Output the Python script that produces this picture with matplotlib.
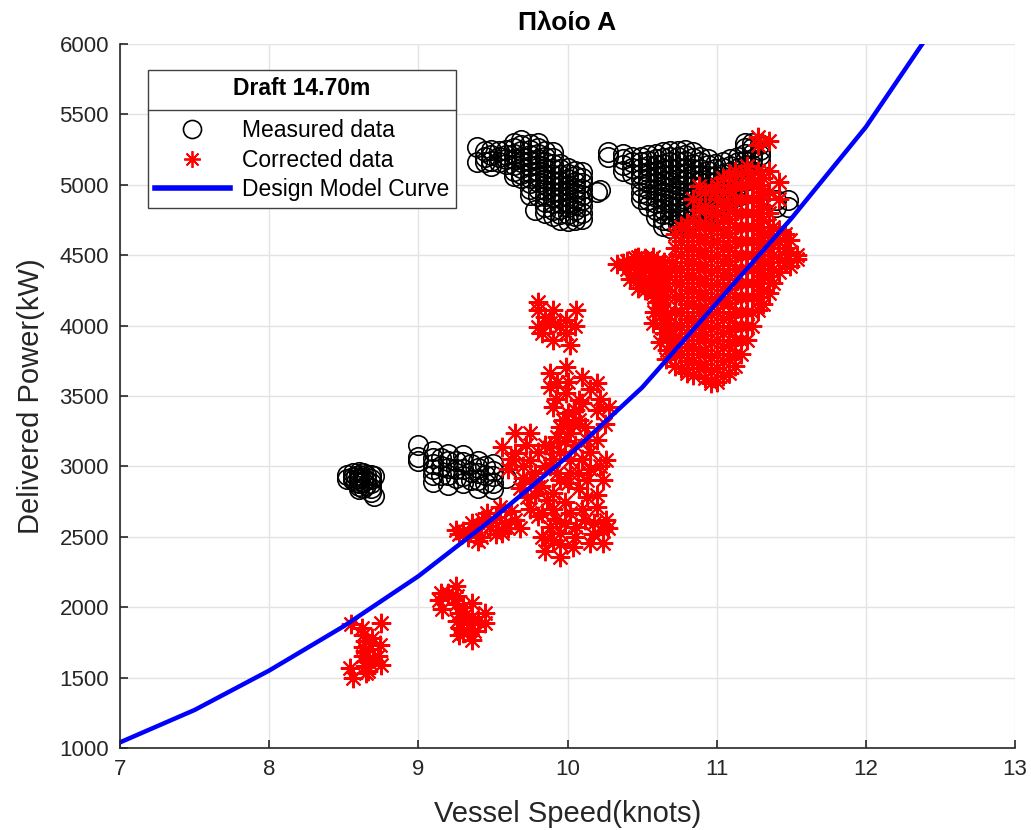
import matplotlib.pyplot as plt
from matplotlib.lines import Line2D

plt.rcParams['font.family'] = ['Liberation Sans', 'DejaVu Sans']

# design model curve (speed in knots, power in kW)
design_speed = [7.0, 7.5, 8.0, 8.5, 9.0, 9.5, 10.0, 10.5, 11.0, 11.5, 12.0, 12.5]
design_power = [1040, 1270, 1550, 1865, 2220, 2630, 3070, 3560, 4160, 4760, 5410, 6190]

# measured data, grouped roughly by speed columns
meas_speed = (
	[8.52, 8.52, 8.56, 8.56, 8.56, 8.60, 8.60, 8.60, 8.60, 8.60, 8.60, 8.60,
	 8.63, 8.63, 8.63, 8.63, 8.68, 8.68, 8.68, 8.68, 8.68, 8.70, 8.70,
	 8.58, 8.58, 8.65, 8.65, 8.65]
	+ [9.00, 9.00, 9.00, 9.10, 9.10, 9.10, 9.10, 9.10, 9.10, 9.20, 9.20, 9.20, 9.20, 9.20,
	   9.30, 9.30, 9.30, 9.30, 9.30, 9.40, 9.40, 9.40, 9.40, 9.40, 9.50, 9.50, 9.50, 9.50,
	   9.50, 9.59,
	   9.15, 9.15, 9.15, 9.25, 9.25, 9.25, 9.35, 9.35, 9.35, 9.45, 9.45, 9.45]
	+ [9.39, 9.39, 9.49, 9.49, 9.49, 9.49, 9.59, 9.59, 9.59, 9.59,
	   9.69, 9.69, 9.69, 9.69, 9.69, 9.69, 9.69, 9.69,
	   9.80, 9.80, 9.80, 9.80, 9.80, 9.80, 9.80, 9.80, 9.80, 9.80, 9.78,
	   9.90, 9.90, 9.90, 9.90, 9.90, 9.90, 9.90, 9.90, 9.90, 9.90, 9.90, 9.90,
	   10.00, 10.00, 10.00, 10.00, 10.00, 10.00, 10.00, 10.00, 10.00, 10.00,
	   10.10, 10.10, 10.10, 10.10, 10.10, 10.10, 10.10, 10.10, 10.10, 10.20]
	+ [9.45, 9.45, 9.45, 9.54, 9.54, 9.54,
	   9.64, 9.64, 9.64, 9.64, 9.64, 9.64, 9.64,
	   9.75, 9.75, 9.75, 9.75, 9.75, 9.75, 9.75, 9.75, 9.75, 9.75,
	   9.85, 9.85, 9.85, 9.85, 9.85, 9.85, 9.85, 9.85, 9.85, 9.85, 9.85, 9.85,
	   9.95, 9.95, 9.95, 9.95, 9.95, 9.95, 9.95, 9.95, 9.95, 9.95, 9.95,
	   10.05, 10.05, 10.05, 10.05, 10.05, 10.05, 10.05, 10.05, 10.05, 10.05]
	+ [10.22, 10.27, 10.27, 10.37, 10.37, 10.37, 10.37,
	   10.49, 10.49, 10.49, 10.49, 10.49, 10.49, 10.49, 10.49,
	   10.59, 10.59, 10.59, 10.59, 10.59, 10.59, 10.59, 10.59, 10.59, 10.59, 10.59,
	   10.69, 10.69, 10.69, 10.69, 10.69, 10.69, 10.69, 10.69, 10.69, 10.69, 10.69, 10.69, 10.69,
	   10.79, 10.79, 10.79, 10.79, 10.79, 10.79, 10.79, 10.79, 10.79, 10.79, 10.79, 10.79, 10.79,
	   10.89, 10.89, 10.89, 10.89, 10.89, 10.89, 10.89, 10.89, 10.89, 10.89,
	   10.99, 10.99, 10.99, 10.99, 10.99, 10.99, 10.99, 10.99, 10.99, 10.99, 10.99,
	   11.09, 11.09, 11.09, 11.09, 11.09, 11.09, 11.09,
	   11.19, 11.19, 11.19, 11.19, 11.19, 11.19, 11.19,
	   11.29, 11.29, 11.29, 11.29, 11.40, 11.40, 11.48, 11.48]
	+ [10.43, 10.43, 10.43, 10.43,
	   10.54, 10.54, 10.54, 10.54, 10.54, 10.54, 10.54, 10.54, 10.54, 10.54,
	   10.64, 10.64, 10.64, 10.64, 10.64, 10.64, 10.64, 10.64, 10.64, 10.64, 10.64, 10.64, 10.64, 10.64,
	   10.74, 10.74, 10.74, 10.74, 10.74, 10.74, 10.74, 10.74, 10.74, 10.74, 10.74, 10.74, 10.74, 10.74,
	   10.84, 10.84, 10.84, 10.84, 10.84, 10.84, 10.84, 10.84, 10.84, 10.84, 10.84, 10.84, 10.84,
	   10.94, 10.94, 10.94, 10.94, 10.94, 10.94, 10.94, 10.94, 10.94, 10.94, 10.94, 10.94, 10.94,
	   11.04, 11.04, 11.04, 11.04, 11.04, 11.04, 11.04, 11.04, 11.04,
	   11.14, 11.14, 11.14, 11.14, 11.14, 11.14, 11.14, 11.14, 11.14,
	   11.24, 11.24, 11.24, 11.24, 11.24, 11.24]
)
meas_power = (
	[2940, 2910, 2950, 2925, 2900, 2960, 2940, 2920, 2900, 2880, 2860, 2840,
	 2950, 2920, 2890, 2850, 2940, 2910, 2880, 2850, 2820, 2930, 2790,
	 2930, 2890, 2940, 2900, 2870]
	+ [3150, 3070, 3040, 3110, 3060, 3020, 2980, 2940, 2890, 3090, 3040, 2990, 2940, 2870,
	   3080, 3030, 2980, 2930, 2880, 3040, 2990, 2950, 2900, 2850, 3020, 2970, 2930, 2880,
	   2840, 2920,
	   3060, 3000, 2940, 3040, 2980, 2920, 3020, 2960, 2900, 3000, 2940, 2880]
	+ [5270, 5165, 5250, 5210, 5170, 5135, 5250, 5215, 5180, 5145,
	   5320, 5280, 5240, 5200, 5160, 5120, 5080, 5050,
	   5300, 5260, 5220, 5180, 5140, 5100, 5060, 5020, 4970, 4920, 4820,
	   5230, 5190, 5150, 5110, 5070, 5030, 4990, 4950, 4910, 4870, 4820, 4780,
	   5120, 5080, 5040, 5000, 4960, 4920, 4880, 4840, 4790, 4740,
	   5090, 5050, 5010, 4970, 4930, 4890, 4850, 4800, 4760, 4950]
	+ [5240, 5200, 5160, 5240, 5200, 5160,
	   5300, 5260, 5220, 5180, 5140, 5100, 5060,
	   5290, 5250, 5210, 5170, 5130, 5090, 5050, 5010, 4970, 4930,
	   5240, 5200, 5160, 5120, 5080, 5040, 5000, 4960, 4920, 4880, 4840, 4800,
	   5150, 5110, 5070, 5030, 4990, 4950, 4910, 4870, 4830, 4790, 4750,
	   5100, 5060, 5020, 4980, 4940, 4900, 4860, 4820, 4780, 4750]
	+ [4960, 5230, 5195, 5220, 5180, 5140, 5100,
	   5200, 5160, 5120, 5080, 5040, 4990, 4940, 4900,
	   5220, 5180, 5140, 5100, 5060, 5010, 4960, 4910, 4870, 4820, 4770,
	   5240, 5200, 5160, 5110, 5070, 5020, 4980, 4930, 4890, 4840, 4790, 4740, 4690,
	   5250, 5210, 5170, 5120, 5080, 5030, 4990, 4940, 4900, 4850, 4800, 4750, 4700,
	   5200, 5160, 5110, 5070, 5020, 4980, 4930, 4890, 4840, 4790,
	   5150, 5110, 5060, 5020, 4970, 4930, 4880, 4840, 4790, 4740, 4680,
	   5180, 5130, 5090, 5040, 4990, 4940, 4890,
	   5300, 5260, 5220, 5170, 5130, 5080, 5030,
	   5290, 5250, 5210, 5170, 4890, 4840, 4890, 4840]
	+ [5200, 5160, 5120, 5080,
	   5210, 5170, 5130, 5090, 5050, 5010, 4970, 4930, 4890, 4850,
	   5230, 5190, 5150, 5110, 5070, 5030, 4990, 4950, 4910, 4870, 4830, 4790, 4750, 4710,
	   5240, 5200, 5160, 5120, 5080, 5040, 5000, 4960, 4920, 4880, 4840, 4800, 4760, 4720,
	   5230, 5190, 5150, 5110, 5070, 5030, 4990, 4950, 4910, 4870, 4830, 4790, 4750,
	   5180, 5140, 5100, 5060, 5020, 4980, 4940, 4900, 4860, 4820, 4780, 4740, 4700,
	   5160, 5120, 5080, 5040, 5000, 4960, 4920, 4880, 4840,
	   5200, 5160, 5120, 5080, 5040, 5000, 4960, 4920, 4880,
	   5300, 5260, 5220, 5180, 5140, 5100]
)

# corrected data
corr_speed = (
	[8.55, 8.54, 8.56, 8.62, 8.63, 8.64, 8.63, 8.64, 8.63, 8.65, 8.64, 8.66, 8.65,
	 8.67, 8.67, 8.75, 8.74, 8.75, 8.73, 8.69]
	+ [9.15, 9.14, 9.16, 9.20, 9.25, 9.26, 9.25, 9.27, 9.26, 9.28, 9.27, 9.30, 9.32,
	   9.34, 9.36, 9.36, 9.37, 9.36, 9.45, 9.45, 9.40, 9.30]
	+ [9.25, 9.27, 9.30, 9.33, 9.36, 9.38, 9.42, 9.43, 9.46, 9.48, 9.52, 9.55, 9.56,
	   9.58, 9.60, 9.62, 9.65, 9.52, 9.40, 9.68]
	+ [9.56, 9.65, 9.75, 9.85, 9.65, 9.75, 9.75, 9.85, 9.73, 9.80, 9.83, 9.83, 9.88,
	   9.95, 9.95, 10.02, 10.06, 10.04, 10.15, 10.24, 10.26, 10.24, 10.20, 10.13,
	   10.13, 10.24, 10.26, 10.20, 10.02, 10.02, 9.95, 9.90,
	   9.88, 9.99, 10.10, 10.20, 9.88, 9.99, 10.08, 9.90, 9.97, 10.08, 10.20, 10.28,
	   10.02, 9.93, 10.13, 9.88,
	   9.70, 9.78, 9.90, 9.95, 10.05, 10.10, 10.15, 10.08, 9.98, 9.90, 10.10, 10.18,
	   9.92, 9.60, 9.68, 9.78, 9.95, 10.05, 10.12, 10.00, 9.92, 10.25, 9.80, 9.85,
	   9.72, 9.80, 9.88, 9.93, 10.00, 10.07, 10.15, 10.22, 10.20, 10.12, 10.05, 9.98,
	   9.90, 9.86, 9.75, 10.00, 10.10, 10.15, 9.93, 10.04, 9.98, 10.22, 10.17, 10.27,
	   9.95, 9.82, 9.70, 9.62]
	+ [9.80, 9.80, 9.80, 9.90, 9.88, 9.90, 9.99, 9.99, 10.06, 10.02, 9.85, 9.95,
	   10.05, 9.83]
	+ [10.37, 10.40, 10.42, 10.47, 10.47, 10.50, 10.53, 10.57, 10.57, 10.55, 10.60,
	   10.62, 10.57, 10.62, 10.65, 10.68,
	   10.45, 10.45, 10.52, 10.52, 10.52, 10.60, 10.60, 10.60, 10.65, 10.65, 10.65,
	   10.42, 10.45, 10.50, 10.55, 10.60, 10.63, 10.48, 10.53, 10.58, 10.63,
	   10.66, 10.68, 10.70, 10.62, 10.66, 10.70, 10.58, 10.64, 10.40, 10.33]
	+ [10.67, 10.67, 10.67, 10.67,
	   10.72, 10.72, 10.72, 10.72, 10.72, 10.72, 10.72, 10.72, 10.72, 10.72,
	   10.80, 10.80, 10.80, 10.80, 10.80, 10.80, 10.80, 10.80, 10.80, 10.80, 10.80, 10.80,
	   10.88, 10.88, 10.88, 10.88, 10.88, 10.88, 10.88, 10.88, 10.88, 10.88, 10.88, 10.88, 10.88,
	   10.96, 10.96, 10.96, 10.96, 10.96, 10.96, 10.96, 10.96, 10.96, 10.96, 10.96, 10.96, 10.96, 10.96,
	   11.04, 11.04, 11.04, 11.04, 11.04, 11.04, 11.04, 11.04, 11.04, 11.04, 11.04, 11.04, 11.04, 11.04, 11.04,
	   11.12, 11.12, 11.12, 11.12, 11.12, 11.12, 11.12, 11.12, 11.12, 11.12, 11.12, 11.12, 11.12, 11.12, 11.12,
	   11.20, 11.20, 11.20, 11.20, 11.20, 11.20, 11.20, 11.20, 11.20, 11.20, 11.20, 11.20, 11.20,
	   11.28, 11.28, 11.28, 11.28, 11.28, 11.28, 11.28, 11.28, 11.28, 11.28, 11.28, 11.28, 11.28,
	   11.35, 11.35, 11.35, 11.35, 11.35, 11.35, 11.35, 11.35, 11.35,
	   11.42, 11.42, 11.42, 11.42, 11.42, 11.42,
	   11.49, 11.49, 11.49, 11.54, 11.54]
	+ [10.76, 10.76, 10.76, 10.76, 10.76, 10.76, 10.76, 10.76, 10.76, 10.76, 10.76,
	   10.84, 10.84, 10.84, 10.84, 10.84, 10.84, 10.84, 10.84, 10.84, 10.84, 10.84, 10.84, 10.84,
	   10.92, 10.92, 10.92, 10.92, 10.92, 10.92, 10.92, 10.92, 10.92, 10.92, 10.92, 10.92, 10.92, 10.92,
	   11.00, 11.00, 11.00, 11.00, 11.00, 11.00, 11.00, 11.00, 11.00, 11.00, 11.00, 11.00, 11.00, 11.00, 11.00,
	   11.08, 11.08, 11.08, 11.08, 11.08, 11.08, 11.08, 11.08, 11.08, 11.08, 11.08, 11.08, 11.08, 11.08, 11.08,
	   11.16, 11.16, 11.16, 11.16, 11.16, 11.16, 11.16, 11.16, 11.16, 11.16, 11.16, 11.16, 11.16, 11.16,
	   11.24, 11.24, 11.24, 11.24, 11.24, 11.24, 11.24, 11.24, 11.24, 11.24, 11.24, 11.24,
	   11.31, 11.31, 11.31, 11.31, 11.31, 11.31, 11.31, 11.31, 11.31, 11.31,
	   11.38, 11.38, 11.38, 11.38, 11.38,
	   11.46, 11.46, 11.46]
)
corr_power = (
	[1880, 1570, 1495, 1850, 1800, 1760, 1720, 1690, 1650, 1620, 1580, 1550, 1530,
	 1700, 1610, 1890, 1730, 1590, 1650, 1780]
	+ [2100, 2050, 1990, 2100, 2150, 2080, 2020, 1960, 1900, 1850, 1800, 2000, 1950,
	   1880, 2030, 1930, 1830, 1770, 1960, 1890, 1900, 1820]
	+ [2550, 2520, 2540, 2500, 2600, 2560, 2500, 2620, 2670, 2580, 2640, 2710, 2530,
	   2600, 2560, 2680, 2620, 2520, 2470, 2560]
	+ [3140, 3240, 3240, 3150, 3095, 3045, 2905, 3000, 2780, 2855, 2670, 2500, 2570,
	   2360, 2530, 2670, 2570, 2430, 2455, 2455, 2620, 2540, 2710, 2780,
	   2905, 2905, 3045, 3190, 3045, 2955, 2905, 2810,
	   3660, 3705, 3635, 3590, 3565, 3520, 3470, 3420, 3330, 3330, 3400, 3420,
	   3240, 3210, 3190, 3140,
	   3000, 2950, 3050, 3100, 3150, 3050, 2980, 2850, 2750, 2700, 2700, 2600,
	   2620, 2980, 2850, 2800, 3280, 3400, 3280, 3600, 3480, 3300, 2650, 2400,
	   3150, 3100, 3000, 2950, 2880, 2950, 3100, 3000, 2800, 2620, 2500, 2600,
	   2480, 2760, 2700, 3380, 3450, 3550, 3600, 3300, 3180, 3480, 2520, 2560,
	   2450, 2860, 2920, 3050]
	+ [4170, 4110, 3990, 4110, 4020, 3900, 3950, 4040, 4110, 3860, 4060, 4000,
	   4000, 3950]
	+ [4445, 4400, 4330, 4490, 4270, 4380, 4450, 4490, 4230, 4330, 4400,
	   4280, 4020, 4100, 4450, 4350,
	   4350, 4420, 4300, 4250, 4480, 4170, 4330, 4460, 4050, 3950, 4250,
	   4420, 4480, 4440, 4400, 4360, 4420, 4330, 4280, 4200, 4150,
	   4300, 4000, 3900, 3880, 3760, 4450, 4100, 3980, 4460, 4440]
	+ [3830, 3950, 4090, 4200,
	   3710, 3800, 3900, 4000, 4100, 4200, 4300, 4400, 4550, 4650,
	   3660, 3750, 3850, 3950, 4050, 4150, 4250, 4350, 4450, 4550, 4650, 4730,
	   3700, 3800, 3900, 4000, 4100, 4200, 4300, 4400, 4500, 4600, 4700, 4820, 4990,
	   3590, 3680, 3780, 3880, 3980, 4080, 4180, 4280, 4380, 4480, 4580, 4680, 4800, 4960,
	   3640, 3750, 3850, 3950, 4050, 4150, 4250, 4350, 4450, 4550, 4650, 4750, 4850, 4950, 5050,
	   3710, 3800, 3900, 4000, 4100, 4200, 4300, 4400, 4500, 4600, 4700, 4800, 4900, 5000, 5100,
	   3900, 4000, 4100, 4200, 4300, 4400, 4500, 4600, 4700, 4800, 4900, 5000, 5130,
	   4110, 4200, 4300, 4400, 4500, 4600, 4700, 4800, 4900, 5000, 5100, 5280, 5340,
	   4230, 4350, 4450, 4550, 4650, 4800, 4950, 5100, 5310,
	   4380, 4480, 4600, 4680, 4900, 5020,
	   4420, 4520, 4610, 4500, 4470]
	+ [3700, 3800, 3900, 4000, 4100, 4200, 4300, 4400, 4500, 4600, 4700,
	   3650, 3750, 3850, 3950, 4050, 4150, 4250, 4350, 4450, 4550, 4650, 4750, 4900,
	   3630, 3730, 3830, 3930, 4030, 4130, 4230, 4330, 4430, 4530, 4630, 4730, 4850, 4950,
	   3600, 3700, 3800, 3900, 4000, 4100, 4200, 4300, 4400, 4500, 4600, 4700, 4800, 4900, 5000,
	   3660, 3760, 3860, 3960, 4060, 4160, 4260, 4360, 4460, 4560, 4660, 4760, 4860, 4960, 5060,
	   3800, 3900, 4000, 4100, 4200, 4300, 4400, 4500, 4600, 4700, 4800, 4900, 5000, 5080,
	   4000, 4100, 4200, 4300, 4400, 4500, 4600, 4700, 4800, 4900, 5000, 5050,
	   4150, 4250, 4350, 4450, 4550, 4650, 4750, 4850, 4950, 5050,
	   4300, 4400, 4500, 4600, 4700,
	   4450, 4550, 4650]
)

fig = plt.figure(figsize=(10.31, 8.30), dpi=100)
ax = fig.add_axes([0.1164, 0.0988, 0.8681, 0.8482])

ax.plot(meas_speed, meas_power, linestyle='none', marker='o', markersize=14,
	markerfacecolor='none', markeredgecolor='black', markeredgewidth=1.2,
	label='Measured data')
ax.plot(corr_speed, corr_power, linestyle='none', marker=(8, 2, 0), markersize=14,
	color='red', markeredgewidth=1.5, label='Corrected data')
ax.plot(design_speed, design_power, color='blue', linewidth=3.2,
	label='Design Model Curve')

ax.set_xlim(7, 13)
ax.set_ylim(1000, 6000)
ax.set_xticks(range(7, 14))
ax.set_yticks(range(1000, 6001, 500))
ax.grid(True, color='#e3e3e3', linewidth=1.0)
ax.set_axisbelow(True)
for side in ['top', 'right']:
	ax.spines[side].set_visible(False)
for side in ['left', 'bottom']:
	ax.spines[side].set_color('#262626')
	ax.spines[side].set_linewidth(1.2)
ax.tick_params(direction='in', length=6, width=1.2, colors='#262626',
	labelsize=16, pad=8)

ax.set_xlabel('Vessel Speed(knots)', fontsize=21, color='#262626', labelpad=14)
ax.set_ylabel('Delivered Power(kW)', fontsize=21, color='#262626', labelpad=10)
ax.set_title('Πλοίο A', fontsize=19, fontweight='bold', pad=10)

handles = [
	Line2D([], [], linestyle='none', marker='o', markersize=13, markerfacecolor='none',
		markeredgecolor='black', markeredgewidth=1.2),
	Line2D([], [], linestyle='none', marker=(8, 2, 0), markersize=12, color='red',
		markeredgewidth=1.3),
	Line2D([], [], color='blue', linewidth=4),
]
leg = ax.legend(handles, ['Measured data', 'Corrected data', 'Design Model Curve'],
	title='Draft 14.70m', loc='upper left', bbox_to_anchor=(0.031, 0.963),
	fontsize=16.5, title_fontproperties={'weight': 'bold', 'size': 16.5},
	frameon=True, fancybox=False, edgecolor='#404040', framealpha=1,
	handlelength=3.3, handletextpad=0.5, labelspacing=0.28, borderpad=0.3,
	borderaxespad=0)
leg.get_frame().set_linewidth(1.0)
leg._legend_box.sep = 14

# separator line under the legend title, as in the original
fig.canvas.draw()
inv = fig.transFigure.inverted()
frame_box = leg.get_frame().get_window_extent()
title_box = leg.get_title().get_window_extent()
first_box = leg.get_texts()[0].get_window_extent()
y_sep = (title_box.y0 + first_box.y1) / 2
x0, y0 = inv.transform((frame_box.x0, y_sep))
x1, _ = inv.transform((frame_box.x1, y_sep))
fig.add_artist(Line2D([x0, x1], [y0, y0], color='#404040', linewidth=1.0))

fig.savefig('out.png', dpi=100)
